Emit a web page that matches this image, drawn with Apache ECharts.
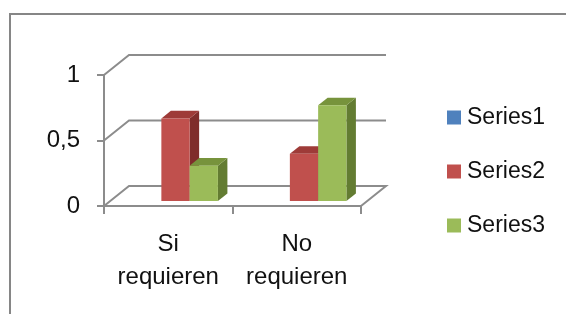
<!DOCTYPE html>
<html>
<head>
    <meta charset="utf-8" />
    <title>Si / No requieren</title>
    <script type="text/javascript" src="https://cdn.jsdelivr.net/npm/echarts@6/dist/echarts.min.js"></script>
    <style>
        html, body { margin: 0; padding: 0; background: #fff; }
    </style>
</head>
<body>
    <div id="main" style="width: 566px;height: 314px;"></div>
    <script type="text/javascript">
        // data
        var categories = ['Si\nrequieren', 'No\nrequieren'];
        var seriesNames = ['Series1', 'Series2', 'Series3'];
        var series1 = [0, 0];
        var series2 = [0.63, 0.36];
        var series3 = [0.27, 0.73];
        var yTicks = [0, 0.5, 1];

        // front, top, side shades (excel 2007 look)
        var shades = [
            ['#4F81BD', '#3C6496', '#2F4F78'],
            ['#C0504D', '#9E3B38', '#7F2D2B'],
            ['#9BBB59', '#77933C', '#637C32']
        ];
        var gray = '#8c8c8c';
        var wallDX = 25, wallDY = 20;   // depth of the floor / walls in px
        var font = 'Liberation Sans, Arial, sans-serif';

        function wallItem(params, api) {
            var v = api.value(1);
            var cs = params.coordSys;
            var p = api.coord([0, v]);
            var x = cs.x, y = p[1];
            var pts = [[x, y], [x + wallDX, y - wallDY], [x + cs.width + wallDX, y - wallDY]];
            if (v === 0) pts.push([x + cs.width, y]);
            return {
                type: 'polyline',
                shape: { points: pts },
                style: { stroke: gray, lineWidth: 2, fill: null }
            };
        }

        function barItem(k) {
            return function (params, api) {
                var cat = api.value(0), val = api.value(1);
                if (!val) return { type: 'group', children: [] };
                var band = api.size([1, 0])[0];
                var bw = band * 0.22;
                var p0 = api.coord([cat, 0]);
                var p1 = api.coord([cat, val]);
                var sx = wallDX * 0.25, sy = wallDY * 0.25;
                var bdx = wallDX * 0.38, bdy = wallDY * 0.38;
                var cx = p0[0] + (k - 1) * bw + sx + 1;
                var x0 = cx - bw / 2, x1 = cx + bw / 2;
                var yb = p0[1] - sy, yt = p1[1] - sy;
                var c = shades[k];
                return {
                    type: 'group',
                    children: [
                        { type: 'polygon', shape: { points: [[x1, yt], [x1 + bdx, yt - bdy], [x1 + bdx, yb - bdy], [x1, yb]] },
                          style: { fill: c[2] } },
                        { type: 'polygon', shape: { points: [[x0, yt], [x1, yt], [x1 + bdx, yt - bdy], [x0 + bdx, yt - bdy]] },
                          style: { fill: c[1] } },
                        { type: 'rect', shape: { x: x0, y: yt, width: bw, height: yb - yt },
                          style: { fill: c[0] } }
                    ]
                };
            };
        }

        var seriesData = [series1, series2, series3];
        var series = [{
            type: 'custom',
            name: 'walls',
            z: 1,
            silent: true,
            clip: false,
            renderItem: wallItem,
            data: yTicks.map(function (v) { return [0, v]; })
        }];
        seriesNames.forEach(function (name, k) {
            series.push({
                type: 'custom',
                name: name,
                z: 2,
                clip: false,
                itemStyle: { color: shades[k][0] },
                renderItem: barItem(k),
                data: seriesData[k].map(function (v, i) { return [i, v]; })
            });
        });

        var myChart = echarts.init(document.getElementById('main'));
        myChart.setOption({
            animation: false,
            grid: { left: 104, right: 205, top: 75, bottom: 108 },
            graphic: [{
                type: 'rect',
                shape: { x: 10, y: 14, width: 620, height: 400 },
                style: { fill: null, stroke: '#868686', lineWidth: 2 },
                z: 0
            }],
            legend: {
                orient: 'vertical',
                left: 447,
                top: 106,
                padding: 0,
                itemWidth: 14,
                itemHeight: 14,
                itemGap: 31,
                icon: 'rect',
                data: seriesNames,
                textStyle: { fontFamily: font, fontSize: 23, color: '#111', padding: [0, 0, 0, 1] }
            },
            xAxis: {
                type: 'category',
                data: categories,
                axisLine: { lineStyle: { color: gray, width: 2 } },
                axisTick: { show: true, interval: 0, length: 8, lineStyle: { color: gray, width: 2 } },
                axisLabel: { interval: 0, fontFamily: font, fontSize: 24, lineHeight: 33, color: '#111', margin: 22 },
                splitLine: { show: false }
            },
            yAxis: {
                type: 'value',
                min: 0,
                max: 1,
                interval: 0.5,
                axisLine: { show: true, lineStyle: { color: gray, width: 2 } },
                axisTick: { show: true, length: 7, lineStyle: { color: gray, width: 2 } },
                axisLabel: {
                    fontFamily: font, fontSize: 24, color: '#111', margin: 24,
                    formatter: function (v) { return String(v).replace('.', ','); }
                },
                splitLine: { show: false }
            },
            series: series
        });
    </script>
</body>
</html>
